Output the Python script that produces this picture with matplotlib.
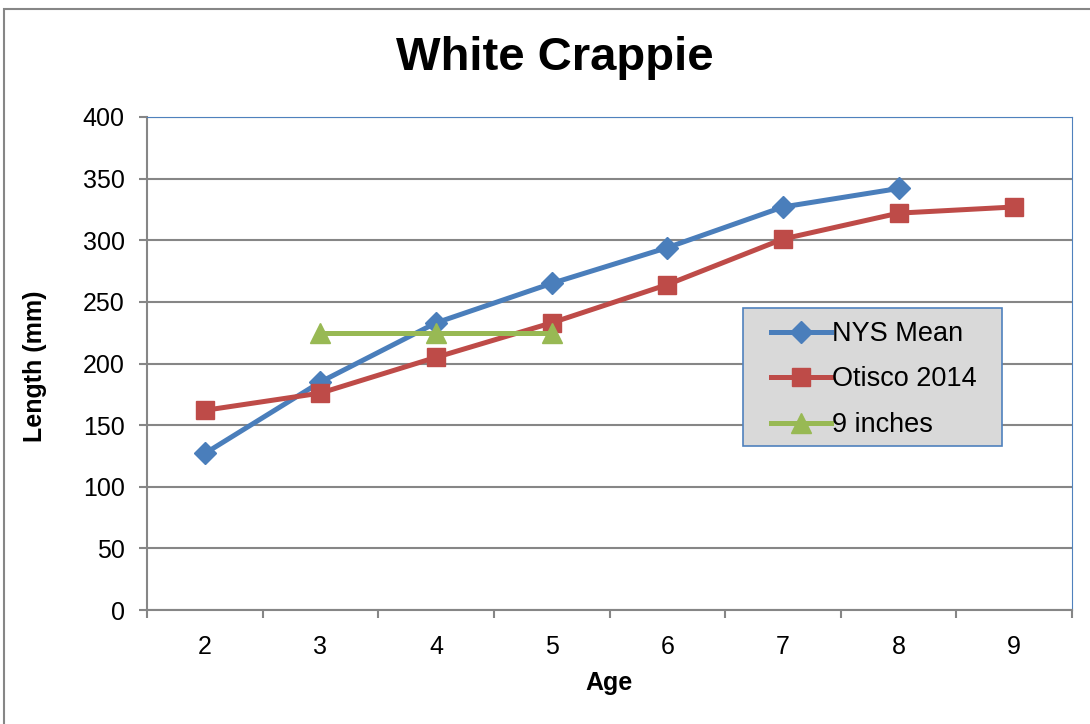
import matplotlib.pyplot as plt
from matplotlib.patches import Rectangle
from matplotlib.ticker import FixedLocator
import numpy as np

plt.rcParams['font.family'] = ['Liberation Sans', 'DejaVu Sans']

# Datos: edad y longitud (mm)
edades = [2, 3, 4, 5, 6, 7, 8, 9]
nys_media = [127, 185, 233, 265, 294, 327, 342]
otisco_2014 = [162, 176, 205, 233, 264, 301, 322, 327]
edades_9in = [3, 4, 5]
nueve_pulgadas = [225, 225, 225]

azul = '#4a7ebb'
rojo = '#be4b48'
verde = '#98b954'
gris = '#868686'

fig = plt.figure(figsize=(10.9, 7.24), dpi=100)
ax = fig.add_axes([147/1090, 1-610/724, 925/1090, 493/724])

# borde exterior del grafico
fig.patches.append(Rectangle((4/1090, -0.1), 1.2, 1-9/724+0.1, transform=fig.transFigure,
                             fill=False, edgecolor=gris, linewidth=1.5))

pos = {e: i for i, e in enumerate(edades)}
x_nys = [pos[e] for e in edades[:len(nys_media)]]
x_oti = [pos[e] for e in edades]
x_9in = [pos[e] for e in edades_9in]

ax.plot(x_nys, nys_media, color=azul, lw=3.6, marker='D', ms=11, label='NYS Mean', zorder=3)
ax.plot(x_oti, otisco_2014, color=rojo, lw=3.6, marker='s', ms=13, label='Otisco 2014', zorder=3)
ax.plot(x_9in, nueve_pulgadas, color=verde, lw=3.6, marker='^', ms=14, label='9 inches', zorder=3)

ax.set_xlim(-0.5, len(edades)-0.5)
ax.set_ylim(0, 400)
ax.set_yticks(np.arange(0, 401, 50))
ax.set_xticks(range(len(edades)))
ax.set_xticklabels([str(e) for e in edades])
ax.xaxis.set_minor_locator(FixedLocator(np.arange(-0.5, len(edades), 1.0)))

ax.grid(axis='y', color=gris, lw=1.5)
ax.set_axisbelow(True)

ax.tick_params(axis='y', labelsize=18, length=6, width=1.5, color=gris, pad=10)
ax.tick_params(axis='x', which='major', labelsize=18, length=0, pad=18)
ax.tick_params(axis='x', which='minor', length=6, width=1.5, color=gris)

ax.spines['left'].set_color(gris)
ax.spines['left'].set_linewidth(1.5)
ax.spines['bottom'].set_color(gris)
ax.spines['bottom'].set_linewidth(1.5)
ax.spines['top'].set_color('#4f81bd')
ax.spines['right'].set_color('#4f81bd')

fig.text(555/1090, 1-58/724, 'White Crappie', fontsize=34, fontweight='bold', ha='center', va='center')
fig.text(35/1090, 1-366/724, 'Length (mm)', fontsize=18, fontweight='bold', rotation=90,
         ha='center', va='center')
fig.text(609/1090, 1-683/724, 'Age', fontsize=18, fontweight='bold', ha='center', va='center')

# caja de la leyenda
x0, x1 = (743-147)/925, (1002-147)/925
y0, y1 = (610-446)/493, (610-308)/493
ax.add_patch(Rectangle((x0, y0), x1-x0, y1-y0, transform=ax.transAxes, facecolor='#d9d9d9',
                       edgecolor='#4f81bd', lw=1.2, zorder=4))
leg = ax.legend(loc='upper left', bbox_to_anchor=((771-147)/925, (610-321)/493), borderaxespad=0,
                fontsize=19.5, frameon=False, handlelength=2.2, handletextpad=0.05,
                labelspacing=0.72, borderpad=0)
leg.set_zorder(5)

fig.savefig('out.png', dpi=100)
